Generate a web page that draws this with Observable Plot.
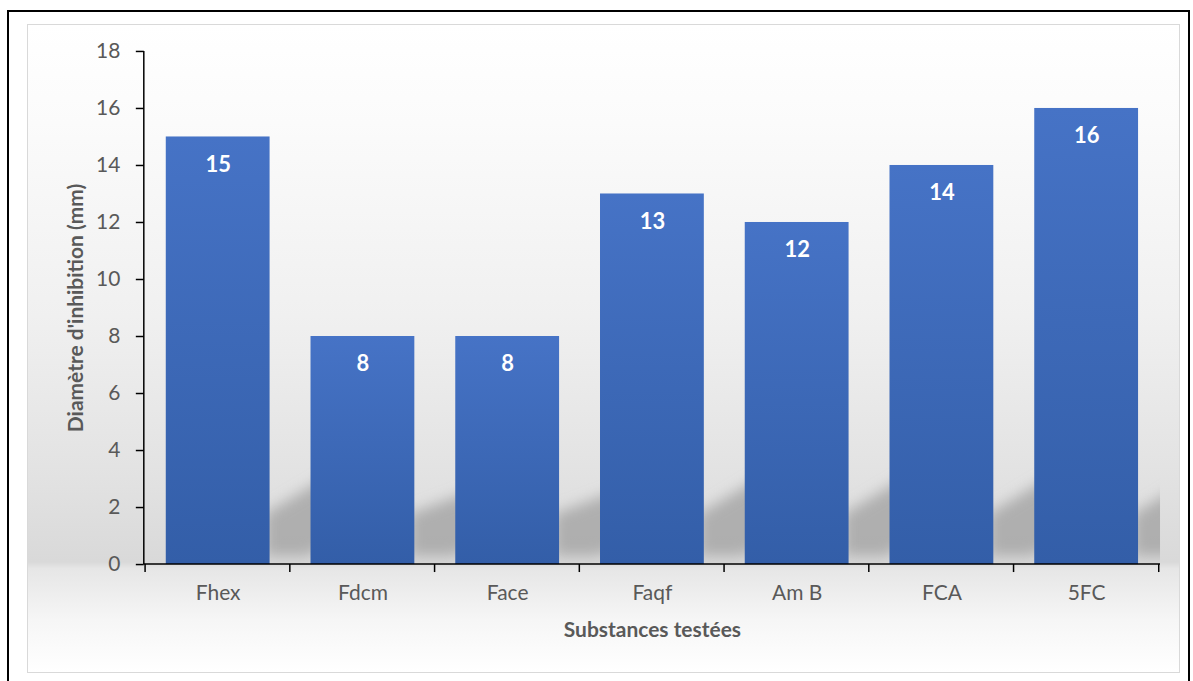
<!DOCTYPE html>
<html>
<head>
<meta charset="utf-8">
<script src="https://cdn.jsdelivr.net/npm/d3@7"></script>
<script src="https://cdn.jsdelivr.net/npm/@observablehq/plot@0.6"></script>
<style>
  html, body { margin: 0; padding: 0; background: #ffffff; }
  body { width: 1193px; height: 681px; position: relative; overflow: hidden; }
  #outer { position: absolute; left: 7px; top: 10px; width: 1183px; height: 680px; border: 2px solid #000; box-sizing: border-box; }
  #panel { position: absolute; left: 27px; top: 24px; width: 1153px; height: 649px; box-sizing: border-box;
    border: 1px solid #d9d9d9;
    background: linear-gradient(to bottom, #ffffff 0%, #fbfbfb 15%, #f0f0f0 45%, #e2e2e2 70%, #d9d9d9 83%, #e6e6e6 84%, #f6f6f6 92%, #ffffff 100%); }
  #panel svg { position: absolute; left: 0; top: 0; }
</style>
</head>
<body>
<div id="outer"></div>
<div id="panel"></div>
<script>
const categories = ["Fhex", "Fdcm", "Face", "Faqf", "Am B", "FCA", "5FC"];
const values = [15, 8, 8, 13, 12, 14, 16];
const yTicks = [0, 2, 4, 6, 8, 10, 12, 14, 16, 18];
const xTitle = "Substances testées";
const yTitle = "Diamètre d'inhibition (mm)";

const data = categories.map((c, i) => ({substance: c, value: values[i]}));
const font = "Lato, 'Open Sans', sans-serif";
const textGrey = "#595959";

const W = 1153, H = 649, ML = 116, MR = 19, MT = 26, MB = 109;
const PI = 0.285, PO = 0.1425;
const step = (W - ML - MR) / (categories.length - PI + 2 * PO);
const bw = step * (1 - PI);

const defsMark = () => {
  const svg = d3.create("svg:defs");
  const g = svg.append("linearGradient").attr("id", "barGrad").attr("x1", 0).attr("y1", 0).attr("x2", 0).attr("y2", 1);
  g.append("stop").attr("offset", "0%").attr("stop-color", "#4673c6");
  g.append("stop").attr("offset", "100%").attr("stop-color", "#335ea8");
  const s = svg.append("filter").attr("id", "shadowBlur").attr("x", "-30%").attr("y", "-30%").attr("width", "160%").attr("height", "160%");
  s.append("feGaussianBlur").attr("stdDeviation", 7);
  svg.append("clipPath").attr("id", "plotClip")
    .append("rect").attr("x", ML).attr("y", MT).attr("width", W - ML - MR).attr("height", H - MT - MB);
  return svg.node();
};

// soft shadow behind each bar, leaning to the upper right (decorative)
const shadowMark = (index, scales) => {
  const outer = d3.create("svg:g").attr("clip-path", "url(#plotClip)");
  const g = outer.append("g").attr("filter", "url(#shadowBlur)");
  const x = scales.x, y = scales.y;
  const y0 = y(0);
  data.forEach(d => {
    const x0 = x(d.substance);
    const h = Math.min((y0 - y(d.value)) * 0.25, 80);
    const xr = x0 + bw;
    g.append("path")
      .attr("d", `M${xr - 5},${y0 - 8} L${xr - 5},${y0 - 50} L${xr + 95},${y0 - h - 30} L${xr + 125},${y0 - h} L${xr + 40},${y0 - 8} Z`)
      .attr("fill", "#a4a4a4").attr("opacity", 0.8);
  });
  return outer.node();
};

const axesMark = (index, scales) => {
  const g = d3.create("svg:g").attr("stroke", "#000").attr("stroke-width", 1.5);
  const x = scales.x, y = scales.y;
  const y0 = y(0);
  g.append("line").attr("x1", ML).attr("x2", W - MR).attr("y1", y0).attr("y2", y0);
  g.append("line").attr("x1", ML).attr("x2", ML).attr("y1", y(18)).attr("y2", y0);
  const bounds = categories.map(c => x(c) + bw / 2 - step / 2);
  bounds.push(x(categories[categories.length - 1]) + bw / 2 + step / 2);
  bounds.forEach(b => g.append("line").attr("x1", b).attr("x2", b).attr("y1", y0).attr("y2", y0 + 8));
  return g.node();
};

const plot = Plot.plot({
  width: W,
  height: H,
  marginLeft: ML,
  marginRight: MR,
  marginTop: MT,
  marginBottom: MB,
  style: {background: "transparent", fontFamily: font},
  x: {domain: categories, paddingInner: PI, paddingOuter: PO, label: null},
  y: {domain: [0, 18], label: null},
  marks: [
    defsMark,
    shadowMark,
    Plot.barY(data, {x: "substance", y: "value", fill: "url(#barGrad)"}),
    Plot.axisY({ticks: yTicks, tickSize: 8, tickPadding: 16, stroke: "#000", strokeWidth: 1.5, fill: textGrey, fontSize: 21, label: null}),
    Plot.axisX({tickSize: 0, tickPadding: 21, fill: textGrey, fontSize: 21, label: null}),
    axesMark,
    Plot.text(data, {x: "substance", y: "value", text: d => String(d.value), dy: 28, fill: "#ffffff", fontWeight: "bold", fontSize: 22, lineAnchor: "middle"}),
    Plot.text([xTitle], {frameAnchor: "bottom", text: d => d, dy: 66, fill: textGrey, fontWeight: "bold", fontSize: 21, lineAnchor: "middle"}),
    Plot.text([yTitle], {frameAnchor: "left", text: d => d, dx: -68, rotate: -90, fill: textGrey, fontWeight: "bold", fontSize: 21, lineAnchor: "middle", textAnchor: "middle"})
  ]
});
document.getElementById("panel").appendChild(plot);
</script>
</body>
</html>
